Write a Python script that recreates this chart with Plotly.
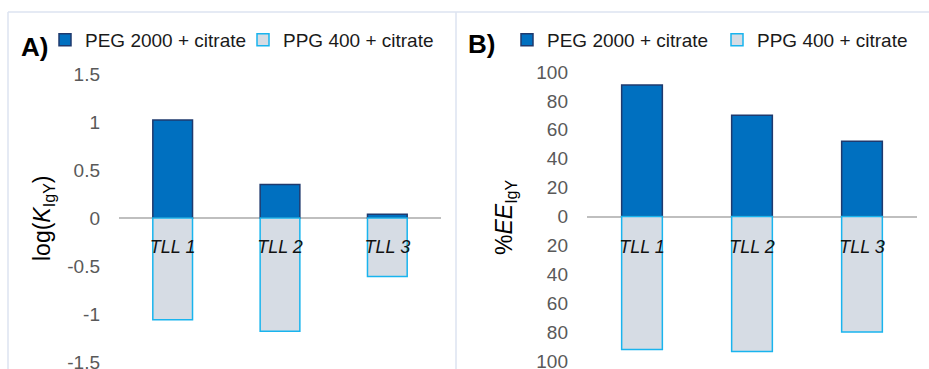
import plotly.graph_objects as go

W, H = 929, 369

categories = ["TLL 1", "TLL 2", "TLL 3"]
series_names = ["PEG 2000 + citrate", "PPG 400 + citrate"]

# Panel A: log(K_IgY)
logk_peg = [1.02, 0.35, 0.04]
logk_ppg = [-1.06, -1.18, -0.61]

# Panel B: %EE_IgY (PPG phase plotted downward)
ee_peg = [91, 70, 52]
ee_ppg = [92, 93.5, 80]

tick_a = [-1.5, -1, -0.5, 0, 0.5, 1, 1.5]
tick_a_text = ["-1.5", "-1", "-0.5", "0", "0.5", "1", "1.5"]
tick_b = [-100, -80, -60, -40, -20, 0, 20, 40, 60, 80, 100]
tick_b_text = [str(abs(v)) for v in tick_b]

PEG_FILL, PEG_LINE = "#0070C0", "#1F3A6E"
PPG_FILL, PPG_LINE = "#D6DCE4", "#19B4EE"
FONT = "Liberation Sans"
TICK_COL = "#595959"


def px(x):
    return x / W


def py(y):
    return (H - y) / H


fig = go.Figure()

fig.add_trace(go.Bar(x=categories, y=logk_peg, name=series_names[0], width=0.37,
                     marker=dict(color=PEG_FILL, line=dict(color=PEG_LINE, width=1.5)),
                     xaxis="x", yaxis="y", legend="legend"))
fig.add_trace(go.Bar(x=categories, y=logk_ppg, name=series_names[1], width=0.37,
                     marker=dict(color=PPG_FILL, line=dict(color=PPG_LINE, width=1.5)),
                     xaxis="x", yaxis="y", legend="legend"))
fig.add_trace(go.Bar(x=categories, y=ee_peg, name=series_names[0], width=0.37,
                     marker=dict(color=PEG_FILL, line=dict(color=PEG_LINE, width=1.5)),
                     xaxis="x2", yaxis="y2", legend="legend2"))
fig.add_trace(go.Bar(x=categories, y=[-v for v in ee_ppg], name=series_names[1], width=0.37,
                     marker=dict(color=PPG_FILL, line=dict(color=PPG_LINE, width=1.5)),
                     xaxis="x2", yaxis="y2", legend="legend2"))

zero_a = 217.5
zero_b = 217.5

common_x = dict(showline=False, showgrid=False, zeroline=False, ticks="",
                tickfont=dict(family=FONT, size=18, color="#111111", style="italic"),
                ticklabelstandoff=16, anchor="free", fixedrange=True, automargin=False)
common_y = dict(showline=False, showgrid=False, zeroline=True, zerolinecolor="#BFBFBF",
                zerolinewidth=1.5, ticks="", tickfont=dict(family=FONT, size=19, color=TICK_COL),
                ticklabelstandoff=18, fixedrange=True, automargin=False,
                ticklabeloverflow="allow")

fig.update_layout(
    width=W, height=H,
    margin=dict(l=0, r=0, t=0, b=0, autoexpand=False),
    paper_bgcolor="white", plot_bgcolor="white",
    barmode="relative",
    font=dict(family=FONT, color="#000000"),
    xaxis=dict(domain=[px(119), px(441)], position=py(zero_a), **common_x),
    yaxis=dict(domain=[py(362), py(74)], range=[-1.5, 1.5], tickvals=tick_a,
               ticktext=tick_a_text, anchor="x", **common_y),
    xaxis2=dict(domain=[px(587), px(917)], position=py(zero_b), **common_x),
    yaxis2=dict(domain=[py(361), py(72)], range=[-100, 100], tickvals=tick_b,
                ticktext=tick_b_text, anchor="x2", **common_y),
    legend=dict(orientation="h", x=px(45), xanchor="left", y=py(40), yanchor="middle",
                font=dict(family=FONT, size=19, color="#1a1a1a"),
                entrywidth=153, entrywidthmode="pixels", bgcolor="rgba(0,0,0,0)",
                itemclick=False, itemdoubleclick=False, traceorder="normal"),
    legend2=dict(orientation="h", x=px(507), xanchor="left", y=py(40), yanchor="middle",
                 font=dict(family=FONT, size=19, color="#1a1a1a"),
                 entrywidth=165, entrywidthmode="pixels", bgcolor="rgba(0,0,0,0)",
                 itemclick=False, itemdoubleclick=False, traceorder="normal"),
    showlegend=True,
)

border = "#DCE3F0"
fig.add_shape(type="line", xref="paper", yref="paper", x0=px(8), x1=1, y0=py(12), y1=py(12),
              line=dict(color=border, width=1.5))
fig.add_shape(type="line", xref="paper", yref="paper", x0=px(8), x1=px(8), y0=0, y1=py(12),
              line=dict(color=border, width=1.5))
fig.add_shape(type="line", xref="paper", yref="paper", x0=px(456), x1=px(456), y0=0, y1=py(12),
              line=dict(color=border, width=1.5))

ann = dict(xref="paper", yref="paper", showarrow=False, xanchor="center", yanchor="middle")
fig.add_annotation(text="<b>A)</b>", x=px(34), y=py(47),
                   font=dict(family=FONT, size=26, color="#000000"), **ann)
fig.add_annotation(text="<b>B)</b>", x=px(481), y=py(44),
                   font=dict(family=FONT, size=26, color="#000000"), **ann)
fig.add_annotation(text="log(<i>K</i><sub>IgY</sub>)", x=px(43), y=py(218), textangle=-90,
                   font=dict(family=FONT, size=23, color="#000000"), **ann)
fig.add_annotation(text="%<i>EE</i><sub>IgY</sub>", x=px(505), y=py(217), textangle=-90,
                   font=dict(family=FONT, size=23, color="#000000"), **ann)

fig.write_html("out.html", config={"displayModeBar": False},
               post_script="document.body.style.margin='0';document.body.style.overflow='hidden';")
